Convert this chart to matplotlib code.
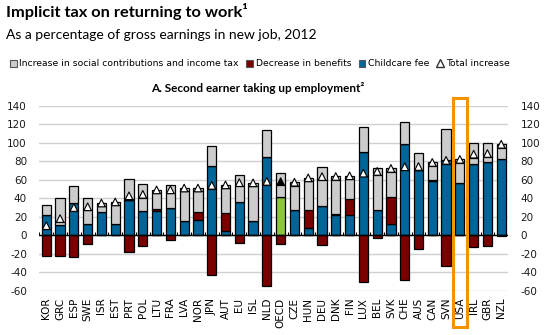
import numpy as np
import matplotlib
matplotlib.use("Agg")
import matplotlib.pyplot as plt
from matplotlib.patches import Patch, Rectangle
from matplotlib.lines import Line2D
from matplotlib.transforms import blended_transform_factory

plt.rcParams['font.family'] = ['DejaVu Sans']
plt.rcParams['axes.unicode_minus'] = False

countries = ["KOR", "GRC", "ESP", "SWE", "ISR", "EST", "PRT", "POL", "LTU", "FRA",
             "LVA", "NOR", "JPN", "AUT", "EU", "ISL", "NLD", "OECD", "CZE", "HUN",
             "DEU", "DNK", "FIN", "LUX", "BEL", "SVK", "CHE", "AUS", "CAN", "SVN",
             "USA", "IRL", "GBR", "NZL"]

# components of the implicit tax, % of gross earnings
childcare = [21.8, 10.9, 34.8, 12.0, 25.0, 12.0, 38.0, 26.1, 26.1, 29.4,
             14.9, 16.0, 74.7, 4.7, 35.5, 14.9, 84.9, 41.0, 27.2, 7.6,
             31.6, 22.1, 21.8, 90.0, 27.2, 12.0, 99.0, 70.4, 58.4, 81.6,
             56.6, 77.3, 79.4, 82.7]
benefits = [-22.3, -22.3, -23.4, -9.6, 0.0, 0.0, -18.4, -11.3, 2.2, -5.3,
            0.0, 8.7, -42.6, 19.2, -8.5, 0.8, -55.3, -9.6, 0.0, 19.6,
            -10.6, 1.2, 17.4, -50.4, -3.2, 29.7, -47.9, -14.9, 1.5, -33.7,
            0.0, -12.4, -11.7, -0.7]
social = [10.8, 29.4, 18.5, 28.3, 9.8, 24.0, 23.0, 29.4, 20.7, 25.0,
          36.1, 26.3, 21.8, 30.5, 29.8, 40.9, 28.6, 26.5, 30.1, 34.8,
          42.4, 40.2, 25.0, 27.5, 45.0, 30.5, 22.9, 18.8, 18.8, 33.0,
          25.4, 22.7, 20.6, 16.3]

highlight = "USA"
average = "OECD"

childcare = np.array(childcare)
benefits = np.array(benefits)
social = np.array(social)
total = childcare + benefits + social
ben_pos = np.clip(benefits, 0, None)
ben_neg = np.clip(benefits, None, 0)

GREY = "#cccccc"
RED = "#7a0000"
BLUE = "#00669a"
GREEN = "#8cc63f"

x = np.arange(len(countries))
w = 0.67
blue_cols = [GREEN if c == average else BLUE for c in countries]

fig = plt.figure(figsize=(5.47, 3.35), dpi=100)
ax = fig.add_axes([39.4 / 547, 1 - 290.7 / 335, 468.7 / 547, 185 / 335])

kw = dict(width=w, edgecolor="black", linewidth=0.9, zorder=2)
ax.bar(x, childcare, color=blue_cols, **kw)
ax.bar(x, ben_pos, bottom=childcare, color=RED, **kw)
ax.bar(x, social, bottom=childcare + ben_pos, color=GREY, **kw)
ax.bar(x, ben_neg, color=RED, **kw)

# total increase markers
tri_cols = ["black" if c == average else "white" for c in countries]
ax.hlines(total - 3.6, x - w / 2, x + w / 2, color="black", lw=0.9, zorder=4)
ax.scatter(x, total, marker="^", s=30, c=tri_cols, edgecolors="black",
           linewidths=0.8, zorder=5)

ax.set_xlim(-0.5, len(countries) - 0.5)
ax.set_ylim(-60, 140)
ax.set_yticks(np.arange(-60, 141, 20))
ax.yaxis.grid(True, color="#d0d0d0", lw=1)
ax.set_axisbelow(True)
for s in ax.spines.values():
    s.set_visible(False)
ax.axhline(0, color="black", lw=1, zorder=3)
ax.vlines(np.arange(-0.5, len(countries)), 0, 3.2, color="black", lw=0.8, zorder=3)

ax.set_xticks(x)
ax.set_xticklabels(countries, rotation=90, fontsize=7.5)
ax.tick_params(axis="x", length=0, pad=5)
ax.tick_params(axis="y", length=0, labelsize=7.5, labelright=True, pad=9,
               labelcolor="#1a1a1a")

# frame around the highlighted country
hi = countries.index(highlight)
trans = blended_transform_factory(ax.transData, ax.transAxes)
ax.add_patch(Rectangle((hi - 0.48, -0.197), 1.02, 1.237, transform=trans,
                       fill=False, edgecolor="#f29400", lw=2.2, clip_on=False,
                       zorder=6))

fig.text(6 / 547, 1 - 17.3 / 335, "Implicit tax on returning to work\u00b9",
         fontsize=11.8, fontweight="bold", family=["Lato", "DejaVu Sans"],
         va="baseline")
fig.text(6 / 547, 1 - 39.3 / 335, "As a percentage of gross earnings in new job, 2012",
         fontsize=10, family=["Lato", "DejaVu Sans"], va="baseline")
fig.text(258 / 547, 1 - 88.3 / 335, "A. Second earner taking up employment\u00b2",
         fontsize=8.5, fontweight="bold", family=["Lato", "DejaVu Sans"],
         ha="center", va="center")

handles = [
    Patch(facecolor=GREY, edgecolor="#555555", lw=0.8,
          label="Increase in social contributions and income tax"),
    Patch(facecolor=RED, edgecolor="#555555", lw=0.8, label="Decrease in benefits"),
    Patch(facecolor=BLUE, edgecolor="#555555", lw=0.8, label="Childcare fee"),
    Line2D([], [], marker="^", color="none", markerfacecolor="white",
           markeredgecolor="#333333", markersize=6, label="Total increase"),
]
fig.legend(handles=handles, loc="center", bbox_to_anchor=(260 / 547, 1 - 64 / 335),
           ncol=4, frameon=False, fontsize=6.7, handlelength=0.7, handleheight=0.7,
           handletextpad=0.3, columnspacing=0.8, borderpad=0)

fig.savefig("out.png", dpi=100)
